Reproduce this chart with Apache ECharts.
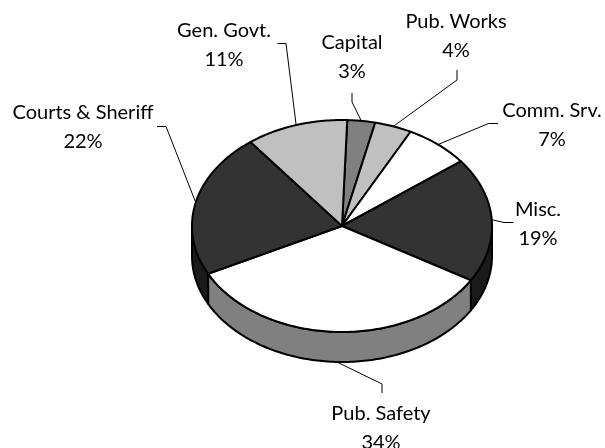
<!DOCTYPE html>
<html>
<head>
<meta charset="utf-8">
<script src="https://cdn.jsdelivr.net/npm/echarts@6/dist/echarts.min.js"></script>
<style>
  html, body { margin: 0; padding: 0; background: #ffffff; }
  #chart { width: 605px; height: 448px; }
</style>
</head>
<body>
<div id="chart"></div>
<script>
// Budget shares by department, clockwise from the top of the pie
const categories = ['Capital', 'Pub. Works', 'Comm. Srv.', 'Misc.', 'Pub. Safety', 'Courts & Sheriff', 'Gen. Govt.'];
const shares = [3, 4, 7, 19, 34, 22, 11];

// Face colours (top surface and front wall)
const topFill  = ['#808080', '#c0c0c0', '#ffffff', '#333333', '#ffffff', '#333333', '#c0c0c0'];
const sideFill = ['#404040', '#606060', '#808080', '#1a1a1a', '#808080', '#1a1a1a', '#606060'];

// Tilted pie geometry
const pie = { cx: 342, cy: 226, rx: 150, ry: 106, depth: 30, startAngle: 88 };

// Label centres and leader-line knee points
const labelLayout = [
  { x: 352, y: 57,  knees: [[352, 102], [352, 93]] },
  { x: 456, y: 36,  knees: [[457, 80], [457, 70]] },
  { x: 552, y: 125, knees: [[488.5, 123.5], [498, 123.5]] },
  { x: 538, y: 224, knees: [[504, 222.5], [513.5, 222.5]] },
  { x: 381, y: 428, knees: [[382, 384], [382, 393]] },
  { x: 83,  y: 127, knees: [[166, 126.5], [157, 126.5]] },
  { x: 224, y: 45,  knees: [[286, 43.5], [277.5, 43.5]] }
];

const total = shares.reduce((a, b) => a + b, 0);
const before = shares.map((_, i) => shares.slice(0, i).reduce((a, b) => a + b, 0));

function ellipsePt(deg, drop) {
  const t = deg * Math.PI / 180;
  return [pie.cx + pie.rx * Math.cos(t), pie.cy - pie.ry * Math.sin(t) + (drop || 0)];
}
function arc(from, to, drop) {
  const n = Math.max(2, Math.ceil(Math.abs(to - from)) + 1);
  const pts = [];
  for (let i = 0; i < n; i++) pts.push(ellipsePt(from + (to - from) * i / (n - 1), drop));
  return pts;
}

const edge = { stroke: '#000000', lineWidth: 2, lineJoin: 'round' };

function renderSlice(params, api) {
  const i = params.dataIndex;
  const v = api.value(0);
  const a0 = pie.startAngle - before[i] / total * 360;
  const a1 = a0 - v / total * 360;
  const children = [];

  // front walls: the parts of the slice lying on the near half of the ellipse
  [-720, -360, 0, 360].forEach(k => {
    const lo = Math.max(a1, -180 + k);
    const hi = Math.min(a0, k);
    if (hi > lo) {
      children.push({
        type: 'polygon',
        shape: { points: arc(lo, hi, 0).concat(arc(hi, lo, pie.depth)) },
        style: Object.assign({ fill: sideFill[i] }, edge)
      });
    }
  });

  // top surface
  children.push({
    type: 'polygon',
    shape: { points: [[pie.cx, pie.cy]].concat(arc(a0, a1, 0)) },
    style: Object.assign({ fill: topFill[i] }, edge)
  });

  // leader line from the slice's mid-angle on the rim
  const mid = (a0 + a1) / 2;
  const front = Math.sin(mid * Math.PI / 180) < 0;
  const anchor = ellipsePt(mid, front ? pie.depth : 0);
  const lay = labelLayout[i];
  children.push({
    type: 'polyline',
    shape: { points: [anchor].concat(lay.knees) },
    style: { stroke: '#000000', lineWidth: 1, fill: null }
  });

  children.push({
    type: 'text',
    style: {
      text: categories[i] + '\n' + v + '%',
      x: lay.x,
      y: lay.y,
      textAlign: 'center',
      textVerticalAlign: 'middle',
      font: '20px Lato',
      lineHeight: 29.5,
      fill: '#000000'
    }
  });

  return { type: 'group', children: children };
}

const chart = echarts.init(document.getElementById('chart'), null, { renderer: 'canvas' });
chart.setOption({
  animation: false,
  backgroundColor: '#ffffff',
  series: [{
    type: 'custom',
    coordinateSystem: 'none',
    renderItem: renderSlice,
    data: shares.map((v, i) => ({ name: categories[i], value: [v] }))
  }]
});
</script>
</body>
</html>
